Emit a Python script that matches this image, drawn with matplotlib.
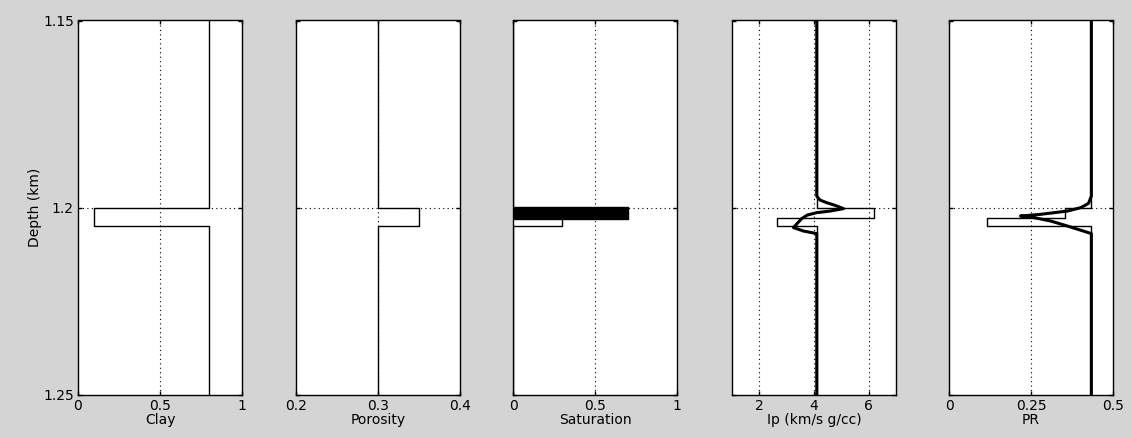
import matplotlib
matplotlib.use('Agg')
import matplotlib.pyplot as plt

plt.rcParams['font.family'] = ['DejaVu Sans']
plt.rcParams['font.size'] = 10

# depth axis (km)
depth_lim = [1.15, 1.25]
depth_ticks = [1.15, 1.2, 1.25]
depth_ticklabels = ['1.15', '1.2', '1.25']

# layer boundaries of the blocky model
bounds = [1.15, 1.2, 1.2028, 1.205, 1.25]

# blocky values per interval
clay = [0.8, 0.1, 0.1, 0.8]
porosity = [0.3, 0.35, 0.35, 0.3]
saturation = [0.0, 0.3, 0.3, 0.0]
ip = [4.1, 6.2, 2.65, 4.1]
pr = [0.434, 0.355, 0.115, 0.434]

# filled saturation patch
sat_fill_depth = [1.1997, 1.2029]
sat_fill_value = 0.7

# smoothed Ip curve
ip_smooth_depth = [1.15, 1.19688, 1.19795, 1.19866, 1.19936, 1.20024, 1.20088,
                   1.20131, 1.20194, 1.20290, 1.20416, 1.20530, 1.20621,
                   1.20690, 1.25]
ip_smooth = [4.1, 4.1, 4.22, 4.47, 4.77, 5.08, 4.59, 4.10, 3.76, 3.55,
             3.39, 3.25, 3.61, 4.1, 4.1]

# smoothed PR curve
pr_smooth_depth = [1.15, 1.19688, 1.19883, 1.19997, 1.20088, 1.20176,
                   1.20221, 1.20264, 1.20354, 1.20488, 1.20690, 1.25]
pr_smooth = [0.434, 0.434, 0.4254, 0.4018, 0.361, 0.279, 0.218, 0.259,
             0.310, 0.361, 0.434, 0.434]

labels = ['Clay', 'Porosity', 'Saturation', 'Ip (km/s g/cc)', 'PR']
xlims = [(0, 1), (0.2, 0.4), (0, 1), (1, 7), (0, 0.5)]
xticks = [[0, 0.5, 1], [0.2, 0.3, 0.4], [0, 0.5, 1], [2, 4, 6], [0, 0.25, 0.5]]
xticklabels = [['0', '0.5', '1'], ['0.2', '0.3', '0.4'], ['0', '0.5', '1'],
               ['2', '4', '6'], ['0', '0.25', '0.5']]


def step(vals):
    d, v = [], []
    for i, val in enumerate(vals):
        d += [bounds[i], bounds[i + 1]]
        v += [val, val]
    return d, v


fig = plt.figure(figsize=(11.32, 4.38), dpi=100, facecolor='#d4d4d4')
lefts = [78, 296, 513, 732, 949]
axes = []
for i, l in enumerate(lefts):
    ax = fig.add_axes([l / 1132, 43 / 438, 164 / 1132, 374.5 / 438])
    axes.append(ax)
    ax.set_facecolor('white')
    ax.set_xlim(*xlims[i])
    ax.set_ylim(depth_lim[1], depth_lim[0])
    ax.set_xticks(xticks[i])
    ax.set_xticklabels(xticklabels[i])
    ax.set_yticks(depth_ticks)
    if i == 0:
        ax.set_yticklabels(depth_ticklabels)
        ax.set_ylabel('Depth (km)', labelpad=1)
    else:
        ax.tick_params(axis='y', left=True, labelleft=False)
    ax.set_xlabel(labels[i], labelpad=0)
    ax.tick_params(direction='in', length=3, width=1, top=True, right=True,
                   pad=3, colors='black')
    ax.grid(True, color='black', linestyle=(0, (1, 3)), linewidth=0.8)
    # no grid lines on the box edges
    for tk, g in zip(ax.get_xticks(), ax.get_xgridlines()):
        if tk in xlims[i]:
            g.set_visible(False)
    for tk, g in zip(ax.get_yticks(), ax.get_ygridlines()):
        if tk in depth_lim:
            g.set_visible(False)
    for s in ax.spines.values():
        s.set_linewidth(1)

axes[2].fill_betweenx(sat_fill_depth, 0, sat_fill_value, color='black', zorder=3)

for ax, vals in zip(axes, [clay, porosity, saturation, ip, pr]):
    d, v = step(vals)
    ax.plot(v, d, color='black', linewidth=1, zorder=4)

axes[3].plot(ip_smooth, ip_smooth_depth, color='black', linewidth=2.2, zorder=5)
axes[4].plot(pr_smooth, pr_smooth_depth, color='black', linewidth=2.2, zorder=5)

fig.savefig('out.png', dpi=100, facecolor=fig.get_facecolor())
